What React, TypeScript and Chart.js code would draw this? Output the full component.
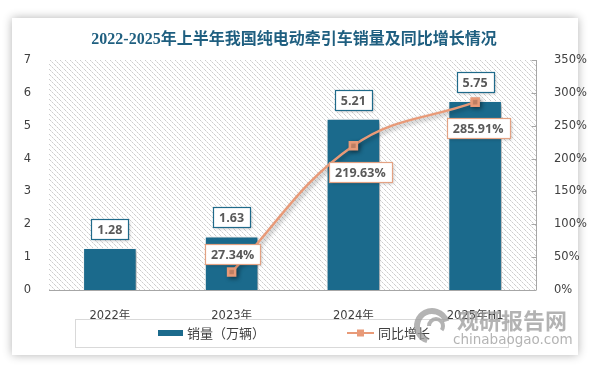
import React, { useEffect, useRef } from 'react';
import { Chart, registerables } from 'chart.js';

Chart.register(...registerables);

const titleText = '2022-2025年上半年我国纯电动牵引车销量及同比增长情况';
const categories = ['2022年', '2023年', '2024年', '2025年H1'];
const salesValues = [1.28, 1.63, 5.21, 5.75];
const growthValues: (number | null)[] = [null, 27.34, 219.63, 285.91];
const seriesNames = ['销量（万辆）', '同比增长'];
const leftAxisMax = 7;
const rightAxisMax = 350;

// label box offsets (relative to point) for growth labels
const growthLabelOffsets: ([number, number] | null)[] = [null, [1, -18], [7, 26], [3, 26]];

const BAR_COLOR = '#1B6A8C';
const LINE_COLOR = '#E89A78';
const TEXT_COLOR = '#404040';
const LABEL_TEXT = '#595959';
const TICK_FONT = '"DejaVu Sans", "Noto Sans CJK SC", sans-serif';
const CJK_FONT = '"Noto Sans CJK SC", sans-serif';
const LABEL_FONT = 'bold 12.5px "Open Sans", "DejaVu Sans", sans-serif';

function makePattern(): CanvasPattern | string {
  const pc = document.createElement('canvas');
  const s = 5;
  pc.width = s;
  pc.height = s;
  const p = pc.getContext('2d');
  if (!p) return '#fff';
  p.fillStyle = '#ffffff';
  p.fillRect(0, 0, s, s);
  for (let i = 0; i < s; i++) {
    p.fillStyle = i % 2 === 0 ? '#cdcdcd' : '#e4e4e4';
    p.fillRect(i, i, 1, 1);
  }
  const pat = p.createPattern(pc, 'repeat');
  return pat || '#fff';
}

function drawBox(ctx: CanvasRenderingContext2D, cx: number, cy: number, text: string, border: string) {
  ctx.save();
  ctx.font = LABEL_FONT;
  const w = Math.round(ctx.measureText(text).width + 12);
  const h = 20;
  const x = Math.round(cx - w / 2) + 0.5;
  const y = Math.round(cy - h / 2) + 0.5;
  ctx.shadowColor = 'rgba(0,0,0,0.25)';
  ctx.shadowBlur = 3;
  ctx.shadowOffsetX = 1;
  ctx.shadowOffsetY = 1;
  ctx.fillStyle = '#ffffff';
  ctx.fillRect(x, y, w, h);
  ctx.shadowColor = 'transparent';
  ctx.strokeStyle = border;
  ctx.lineWidth = 1.2;
  ctx.strokeRect(x, y, w, h);
  ctx.fillStyle = LABEL_TEXT;
  ctx.textAlign = 'center';
  ctx.textBaseline = 'middle';
  ctx.fillText(text, cx, y + h / 2 + 0.5);
  ctx.restore();
}

const customPlugin = {
  id: 'custom',
  beforeDatasetsDraw(chart: any) {
    const { ctx, chartArea: a } = chart;
    ctx.save();
    ctx.fillStyle = makePattern();
    ctx.fillRect(a.left, a.top, a.right - a.left, a.bottom - a.top);
    // baseline
    ctx.strokeStyle = '#a6a6a6';
    ctx.lineWidth = 1;
    ctx.beginPath();
    ctx.moveTo(a.left, Math.round(a.bottom) + 0.5);
    ctx.lineTo(a.right, Math.round(a.bottom) + 0.5);
    ctx.stroke();
    // right axis line with inward ticks
    const y1 = chart.scales.y1;
    const rx = Math.round(a.right) + 0.5;
    ctx.beginPath();
    ctx.moveTo(rx, a.top);
    ctx.lineTo(rx, a.bottom);
    for (let v = 0; v <= rightAxisMax; v += 50) {
      const yy = Math.round(y1.getPixelForValue(v)) + 0.5;
      ctx.moveTo(rx - 5, yy);
      ctx.lineTo(rx, yy);
    }
    ctx.stroke();
    ctx.restore();
  },
  beforeDatasetDraw(chart: any) {
    const ctx = chart.ctx;
    ctx.save();
    ctx.shadowColor = 'rgba(0,0,0,0.35)';
    ctx.shadowBlur = 4;
    ctx.shadowOffsetX = 2;
    ctx.shadowOffsetY = 2;
  },
  afterDatasetDraw(chart: any) {
    chart.ctx.restore();
  },
  afterDatasetsDraw(chart: any) {
    const ctx = chart.ctx;
    const barMeta = chart.getDatasetMeta(0);
    barMeta.data.forEach((el: any, i: number) => {
      drawBox(ctx, el.x, el.y - 19, salesValues[i].toFixed(2), '#1F6A8A');
    });
    const lineMeta = chart.getDatasetMeta(1);
    lineMeta.data.forEach((el: any, i: number) => {
      const v = growthValues[i];
      const off = growthLabelOffsets[i];
      if (v == null || !off) return;
      drawBox(ctx, el.x + off[0], el.y + off[1], v.toFixed(2) + '%', '#E3A283');
    });
  },
  afterDraw(chart: any) {
    const ctx = chart.ctx;
    ctx.save();
    // title
    ctx.font = 'bold 16px "Liberation Serif", "Noto Sans CJK SC", serif';
    ctx.fillStyle = '#1F5F80';
    ctx.textAlign = 'center';
    ctx.textBaseline = 'middle';
    ctx.fillText(titleText, 294, 40);

    // legend
    ctx.strokeStyle = '#d9d9d9';
    ctx.lineWidth = 1;
    ctx.strokeRect(75.5, 319.5, 433, 28);
    ctx.fillStyle = BAR_COLOR;
    ctx.fillRect(158, 330, 25, 6);
    ctx.font = '13px ' + CJK_FONT;
    ctx.fillStyle = TEXT_COLOR;
    ctx.textAlign = 'left';
    ctx.textBaseline = 'middle';
    ctx.fillText(seriesNames[0], 187, 333);
    ctx.strokeStyle = LINE_COLOR;
    ctx.lineWidth = 2;
    ctx.beginPath();
    ctx.moveTo(347, 333);
    ctx.lineTo(374, 333);
    ctx.stroke();
    ctx.fillStyle = LINE_COLOR;
    ctx.fillRect(357, 329.5, 7, 7);
    ctx.fillStyle = TEXT_COLOR;
    ctx.fillText(seriesNames[1], 378, 333);

    // watermark
    ctx.globalAlpha = 0.75;
    ctx.strokeStyle = '#9a9a9a';
    ctx.lineWidth = 6;
    ctx.beginPath();
    ctx.arc(432, 326, 15, Math.PI * 0.6, Math.PI * 1.9);
    ctx.stroke();
    ctx.lineWidth = 4;
    ctx.beginPath();
    ctx.arc(436, 326, 7, Math.PI * 1.0, Math.PI * 2.2);
    ctx.stroke();
    ctx.fillStyle = '#9a9a9a';
    ctx.font = 'bold 22px ' + CJK_FONT;
    ctx.textBaseline = 'middle';
    ctx.fillText('观研报告网', 457, 321);
    ctx.font = '13.5px "DejaVu Sans", sans-serif';
    ctx.fillText('chinabaogao.com', 453, 340);
    ctx.restore();
  },
};

export default function App() {
  const ref = useRef<HTMLCanvasElement | null>(null);
  useEffect(() => {
    if (!ref.current) return;
    const chart = new Chart(ref.current, {
      type: 'bar',
      data: {
        labels: categories,
        datasets: [
          {
            type: 'bar',
            label: seriesNames[0],
            data: salesValues,
            backgroundColor: BAR_COLOR,
            borderColor: '#ffffff',
            borderWidth: 1,
            barPercentage: 0.44,
            categoryPercentage: 1,
            yAxisID: 'y',
            order: 2,
          },
          {
            type: 'line',
            label: seriesNames[1],
            data: growthValues,
            borderColor: LINE_COLOR,
            backgroundColor: LINE_COLOR,
            borderWidth: 2.5,
            tension: 0.4,
            pointStyle: 'rect',
            pointRadius: 5,
            pointHoverRadius: 5,
            yAxisID: 'y1',
            order: 1,
          },
        ],
      } as any,
      options: {
        responsive: false,
        animation: false,
        devicePixelRatio: 1,
        layout: { padding: { left: 0, right: 0, top: 60, bottom: 46 } },
        plugins: { legend: { display: false }, tooltip: { enabled: false }, title: { display: false } },
        scales: {
          x: {
            grid: { display: false },
            border: { display: false },
            ticks: { color: TEXT_COLOR, font: { family: TICK_FONT, size: 11.5 }, padding: 11, maxRotation: 0 },
            afterFit: (s: any) => { s.height = 30; },
          },
          y: {
            position: 'left',
            min: 0,
            max: leftAxisMax,
            grid: { display: false },
            border: { display: false },
            ticks: { stepSize: 1, color: TEXT_COLOR, font: { family: TICK_FONT, size: 11.5 }, padding: 10 },
            afterFit: (s: any) => { s.width = 49; },
          },
          y1: {
            position: 'right',
            min: 0,
            max: rightAxisMax,
            grid: { display: false },
            border: { display: false },
            ticks: {
              stepSize: 50,
              color: TEXT_COLOR,
              font: { family: TICK_FONT, size: 11.5 },
              padding: 10,
              callback: (v: any) => v + '%',
            },
            afterFit: (s: any) => { s.width = 58; },
          },
        },
      } as any,
      plugins: [customPlugin],
    });
    return () => chart.destroy();
  }, []);
  return (
    <div style={{ position: 'absolute', left: 0, top: 0, width: 594, height: 366, background: '#ffffff' }}>
      <div
        style={{
          position: 'absolute',
          left: 12,
          top: 18,
          width: 566,
          height: 337,
          background: '#ffffff',
          boxShadow: '0 0 9px rgba(0,0,0,0.3)',
        }}
      />
      <canvas ref={ref} width={594} height={366} style={{ position: 'absolute', left: 0, top: 0 }} />
    </div>
  );
}
